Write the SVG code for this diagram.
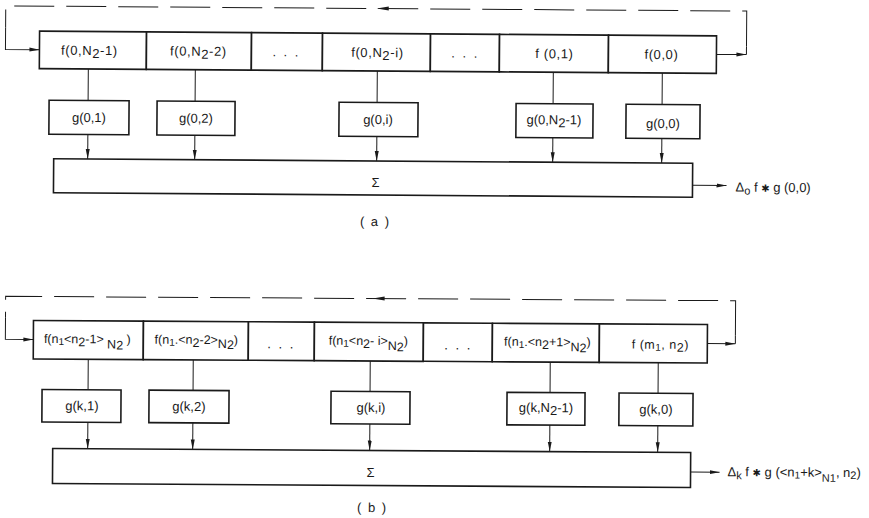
<svg xmlns="http://www.w3.org/2000/svg" width="869" height="518" viewBox="0 0 869 518">
<style>
.box{fill:#fff;stroke:#1a1a1a;stroke-width:1.6}
.ln{fill:none;stroke:#1a1a1a;stroke-width:1}
.dash{fill:none;stroke:#1a1a1a;stroke-width:1;stroke-dasharray:40 12}
.hd{fill:#1a1a1a}
text{font-family:"Liberation Sans",Arial,sans-serif;font-size:13px;fill:#1a1a1a;text-anchor:middle}
.st{text-anchor:start}
.sm{font-size:12.5px}
.sym{font-family:"DejaVu Sans",sans-serif;font-size:10px}
</style>
<defs>
<marker id="ah" markerUnits="userSpaceOnUse" markerWidth="11" markerHeight="6" refX="10" refY="3" orient="auto"><path d="M0,1 L10,3 L0,5 Z" fill="#1a1a1a"/></marker>
</defs>
<rect width="869" height="518" fill="#fff"/>

<g id="panel-a" transform="rotate(0.4 376 115)">
  <g id="a-connectors">
    <path class="dash" d="M746,44 V8.5 H5 V30"/>
    <path class="ln" d="M5,30 V52 H39" marker-end="url(#ah)"/>
    <path class="ln" d="M716,52 H746" marker-end="url(#ah)"/>
    <path class="ln" d="M746,52 V44"/>
    <polygon class="hd" points="376,8.5 388,6.5 388,10.5"/>
    <path class="ln" d="M88,71 V102.5 M195,71 V102.5 M377,71 V102.5 M553,71 V102.5 M662,71 V102.5"/>
    <path class="ln" d="M88,136.5 V161" marker-end="url(#ah)"/>
    <path class="ln" d="M195,136.5 V161" marker-end="url(#ah)"/>
    <path class="ln" d="M377,136.5 V161" marker-end="url(#ah)"/>
    <path class="ln" d="M553,136.5 V161" marker-end="url(#ah)"/>
    <path class="ln" d="M662,136.5 V161" marker-end="url(#ah)"/>
    <path class="ln" d="M693,183 H727" marker-end="url(#ah)"/>
  </g>
  <g id="a-f1"><rect class="box" x="39" y="33.5" width="107" height="37.5"/><text x="89" y="57" letter-spacing="0.6">f(0,N<tspan dy="3">2</tspan><tspan dy="-3">-1)</tspan></text></g>
  <g id="a-f2"><rect class="box" x="146" y="33.5" width="105" height="37.5"/><text x="198" y="57" letter-spacing="0.6">f(0,N<tspan dy="3">2</tspan><tspan dy="-3">-2)</tspan></text></g>
  <g id="a-d1"><rect class="box" x="251" y="33.5" width="71" height="37.5"/><text x="286" y="57" letter-spacing="2">. . .</text></g>
  <g id="a-fi"><rect class="box" x="322" y="33.5" width="108" height="37.5"/><text x="377" y="57" letter-spacing="0.6">f(0,N<tspan dy="3">2</tspan><tspan dy="-3">-i)</tspan></text></g>
  <g id="a-d2"><rect class="box" x="430" y="33.5" width="69" height="37.5"/><text x="465" y="57" letter-spacing="2">. . .</text></g>
  <g id="a-f01"><rect class="box" x="499" y="33.5" width="109" height="37.5"/><text x="554" y="57" letter-spacing="0.6">f (0,1)</text></g>
  <g id="a-f00"><rect class="box" x="608" y="33.5" width="108" height="37.5"/><text x="661" y="57" letter-spacing="0.6">f(0,0)</text></g>

  <g id="a-g1"><rect class="box" x="49" y="102.5" width="80" height="34"/><text x="89" y="124">g(0,1)</text></g>
  <g id="a-g2"><rect class="box" x="157" y="102.5" width="78" height="34"/><text x="196" y="124">g(0,2)</text></g>
  <g id="a-gi"><rect class="box" x="339" y="102.5" width="79" height="34"/><text x="378" y="124">g(0,i)</text></g>
  <g id="a-gn"><rect class="box" x="516" y="102.5" width="77" height="34"/><text x="554" y="123">g(0,N<tspan dy="3">2</tspan><tspan dy="-3">-1)</tspan></text></g>
  <g id="a-g0"><rect class="box" x="626" y="102.5" width="74" height="34"/><text x="663" y="126">g(0,0)</text></g>

  <g id="a-sum"><rect class="box" x="54" y="161" width="639" height="34"/><text x="376" y="187">Σ</text></g>
  <g id="a-out"><text class="st" x="736" y="189">Δ<tspan dy="3" font-size="11">o</tspan><tspan dy="-3"> f </tspan><tspan class="sym">✱</tspan><tspan> g (0,0)</tspan></text></g>
  <text x="376" y="226" letter-spacing="1.5">( a )</text>
</g>

<g id="panel-b" transform="rotate(0.35 370 400)">
  <g id="b-connectors">
    <path class="dash" d="M735,333 V298.5 H5 V320"/>
    <path class="ln" d="M5,320 V341.5 H33" marker-end="url(#ah)"/>
    <path class="ln" d="M707,341.5 H735" marker-end="url(#ah)"/>
    <path class="ln" d="M735,341.5 V333"/>
    <polygon class="hd" points="372,298.5 384,296.5 384,300.5"/>
    <path class="ln" d="M88,361 V391.5 M193,361 V391.5 M370,361 V391.5 M550,361 V391.5 M658,361 V391.5"/>
    <path class="ln" d="M88,424 V450.5" marker-end="url(#ah)"/>
    <path class="ln" d="M193,424 V450.5" marker-end="url(#ah)"/>
    <path class="ln" d="M370,424 V450.5" marker-end="url(#ah)"/>
    <path class="ln" d="M550,424 V450.5" marker-end="url(#ah)"/>
    <path class="ln" d="M658,424 V450.5" marker-end="url(#ah)"/>
    <path class="ln" d="M691,470 H720" marker-end="url(#ah)"/>
  </g>
  <g id="b-f1"><rect class="box" x="33" y="322.5" width="110" height="38.5"/><text class="sm" x="87" y="345">f(n<tspan dy="2" font-size="10">1</tspan><tspan dy="-2">&lt;n</tspan><tspan dy="3">2</tspan><tspan dy="-3">-1&gt; </tspan><tspan dy="5">N</tspan><tspan dy="1">2</tspan><tspan dy="-6"> )</tspan></text></g>
  <g id="b-f2"><rect class="box" x="143" y="322.5" width="105" height="38.5"/><text class="sm" x="196" y="345">f(n<tspan dy="2" font-size="10">1</tspan><tspan dy="-2">.&lt;n</tspan><tspan dy="3">2</tspan><tspan dy="-3">-2&gt;</tspan><tspan dy="4">N</tspan><tspan dy="1">2</tspan><tspan dy="-5">)</tspan></text></g>
  <g id="b-d1"><rect class="box" x="248" y="322.5" width="66" height="38.5"/><text x="281" y="349" letter-spacing="2">. . .</text></g>
  <g id="b-fi"><rect class="box" x="314" y="322.5" width="109" height="38.5"/><text class="sm" x="368" y="345">f(n<tspan dy="2" font-size="10">1</tspan><tspan dy="-2">&lt;n</tspan><tspan dy="3">2</tspan><tspan dy="-3">- i&gt;</tspan><tspan dy="5">N</tspan><tspan dy="1">2</tspan><tspan dy="-6">)</tspan></text></g>
  <g id="b-d2"><rect class="box" x="423" y="322.5" width="69" height="38.5"/><text x="458" y="349" letter-spacing="2">. . .</text></g>
  <g id="b-f5"><rect class="box" x="492" y="322.5" width="107" height="38.5"/><text class="sm" x="547" y="345">f(n<tspan dy="2" font-size="10">1</tspan><tspan dy="-2">.&lt;n</tspan><tspan dy="3">2</tspan><tspan dy="-3">+1&gt;</tspan><tspan dy="5">N</tspan><tspan dy="1">2</tspan><tspan dy="-6">)</tspan></text></g>
  <g id="b-f6"><rect class="box" x="599" y="322.5" width="108" height="38.5"/><text class="sm" x="660" y="347" letter-spacing="0.5">f (m<tspan dy="2" font-size="10">1</tspan><tspan dy="-2">, n</tspan><tspan dy="3">2</tspan><tspan dy="-3">)</tspan></text></g>

  <g id="b-g1"><rect class="box" x="42" y="391.5" width="79" height="32.5"/><text x="82" y="412">g(k,1)</text></g>
  <g id="b-g2"><rect class="box" x="149" y="391.5" width="80" height="32.5"/><text x="189" y="412">g(k,2)</text></g>
  <g id="b-gi"><rect class="box" x="331" y="391.5" width="79" height="32.5"/><text x="371" y="412">g(k,i)</text></g>
  <g id="b-gn"><rect class="box" x="507" y="391.5" width="78" height="32.5"/><text x="546" y="411">g(k,N<tspan dy="3">2</tspan><tspan dy="-3">-1)</tspan></text></g>
  <g id="b-g0"><rect class="box" x="619" y="391.5" width="74" height="32.5"/><text x="656" y="412">g(k,0)</text></g>

  <g id="b-sum"><rect class="box" x="53" y="450.5" width="638" height="35"/><text x="371" y="477">Σ</text></g>
  <g id="b-out"><text class="st" x="728" y="474">Δ<tspan dy="3" font-size="11">k</tspan><tspan dy="-3"> f </tspan><tspan class="sym">✱</tspan><tspan> g (&lt;n</tspan><tspan dy="2" font-size="10">1</tspan><tspan dy="-2">+k&gt;</tspan><tspan dy="5" font-size="11">N1</tspan><tspan dy="-5">, n</tspan><tspan dy="2" font-size="11">2</tspan><tspan dy="-2">)</tspan></text></g>
  <text x="373" y="512" letter-spacing="1.5">( b )</text>
</g>
</svg>
